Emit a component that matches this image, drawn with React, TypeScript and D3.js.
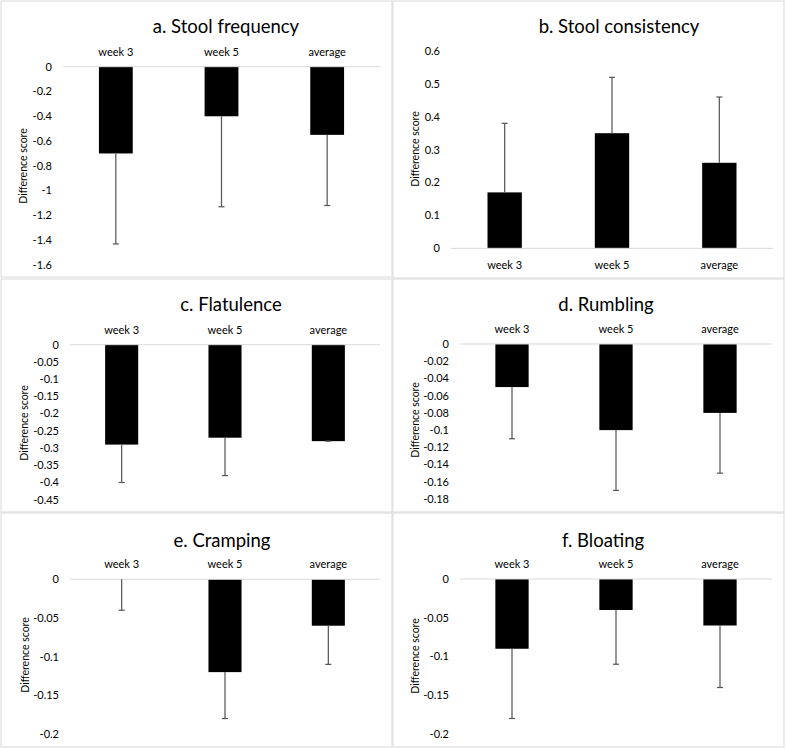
import React from "react";
import * as d3 from "d3";

const categories = ["week 3", "week 5", "average"];

const titles = [
  "a. Stool frequency",
  "b. Stool consistency",
  "c. Flatulence",
  "d. Rumbling",
  "e. Cramping",
  "f. Bloating",
];

// mean difference scores
const stoolFrequency = [-0.7, -0.4, -0.55];
const stoolConsistency = [0.17, 0.35, 0.26];
const flatulence = [-0.29, -0.27, -0.28];
const rumbling = [-0.05, -0.1, -0.08];
const cramping = [0, -0.12, -0.06];
const bloating = [-0.09, -0.04, -0.06];

// error bar lengths (one-sided)
const stoolFrequencyErr = [0.73, 0.73, 0.57];
const stoolConsistencyErr = [0.21, 0.17, 0.2];
const flatulenceErr = [0.11, 0.11, 0.0];
const rumblingErr = [0.06, 0.07, 0.07];
const crampingErr = [0.04, 0.06, 0.05];
const bloatingErr = [0.09, 0.07, 0.08];

// axis ticks
const ticksA = [0, -0.2, -0.4, -0.6, -0.8, -1, -1.2, -1.4, -1.6];
const ticksB = [0, 0.1, 0.2, 0.3, 0.4, 0.5, 0.6];
const ticksC = [0, -0.05, -0.1, -0.15, -0.2, -0.25, -0.3, -0.35, -0.4, -0.45];
const ticksD = [0, -0.02, -0.04, -0.06, -0.08, -0.1, -0.12, -0.14, -0.16, -0.18];
const ticksE = [0, -0.05, -0.1, -0.15, -0.2];
const ticksF = [0, -0.05, -0.1, -0.15, -0.2];

const yLabel = "Difference score";

const seriesValues = [stoolFrequency, stoolConsistency, flatulence, rumbling, cramping, bloating];
const seriesErrors = [stoolFrequencyErr, stoolConsistencyErr, flatulenceErr, rumblingErr, crampingErr, bloatingErr];
const seriesTicks = [ticksA, ticksB, ticksC, ticksD, ticksE, ticksF];

// layout (pixel geometry) for each panel
const layouts = [
  { box: [1, 1, 391, 276], x0: 63, x1: 380, yZero: 66.7, yEnd: 265, titleX: 226, titleY: 33, axX: 23, axY: 166 },
  { box: [393, 1, 391, 277], x0: 451, x1: 773, yZero: 248.3, yEnd: 51, titleX: 619, titleY: 33, axX: 415, axY: 149 },
  { box: [1, 279, 391, 233], x0: 70, x1: 380, yZero: 344.7, yEnd: 499.7, titleX: 231, titleY: 311, axX: 24, axY: 423 },
  { box: [393, 279, 391, 233], x0: 460, x1: 772, yZero: 344, yEnd: 499, titleX: 606, titleY: 311, axX: 415, axY: 420 },
  { box: [1, 513, 391, 234], x0: 70, x1: 380, yZero: 579.3, yEnd: 734, titleX: 222, titleY: 547, axX: 25, axY: 655 },
  { box: [393, 513, 391, 234], x0: 460, x1: 772, yZero: 579, yEnd: 734, titleX: 603, titleY: 547, axX: 415, axY: 656 },
];

const FONT = "Lato, 'Open Sans', sans-serif";
const fmt = (v: number) => String(+v.toFixed(3));

function Panel({ i }: { i: number }) {
  const L = layouts[i];
  const values = seriesValues[i];
  const errs = seriesErrors[i];
  const ticks = seriesTicks[i];
  const ext = d3.extent(ticks) as [number, number];
  const positive = ext[1] > 0;
  const far = positive ? ext[1] : ext[0];
  const y = d3.scaleLinear().domain([0, far]).range([L.yZero, L.yEnd]);
  const x = d3
    .scaleBand<string>()
    .domain(categories)
    .range([L.x0, L.x1])
    .paddingInner(0.68)
    .paddingOuter(0.34);
  const catY = positive ? L.yZero + 21 : L.yZero - 11;
  return (
    <g>
      <rect x={L.box[0]} y={L.box[1]} width={L.box[2]} height={L.box[3]} fill="#fff" stroke="#d9d9d9" strokeWidth={1} />
      <text x={L.titleX} y={L.titleY} textAnchor="middle" fontFamily={FONT} fontSize={18.5} fill="#000">
        {titles[i]}
      </text>
      <text
        transform={`translate(${L.axX},${L.axY}) rotate(-90)`}
        textAnchor="middle"
        dy="0.35em"
        fontFamily={FONT}
        fontSize={10.5}
        fill="#000"
      >
        {yLabel}
      </text>
      {ticks.map((t) => (
        <text
          key={t}
          x={L.x0 - 11}
          y={y(t)}
          dy="0.35em"
          textAnchor="end"
          fontFamily={FONT}
          fontSize={11}
          fill="#000"
        >
          {fmt(t)}
        </text>
      ))}
      {categories.map((c) => (
        <text
          key={c}
          x={(x(c) as number) + x.bandwidth() / 2}
          y={catY}
          textAnchor="middle"
          fontFamily={FONT}
          fontSize={11}
          fill="#000"
        >
          {c}
        </text>
      ))}
      {categories.map((c, k) => {
        const v = values[k];
        const top = Math.min(y(0), y(v));
        const h = Math.abs(y(v) - y(0));
        return h > 0 ? (
          <rect key={"b" + c} x={x(c)} y={top} width={x.bandwidth()} height={h} fill="#000" />
        ) : null;
      })}
      <line x1={L.x0} x2={L.x1} y1={y(0)} y2={y(0)} stroke="#d9d9d9" strokeWidth={1} />
      {categories.map((c, k) => {
        const v = values[k];
        const e = errs[k];
        const end = positive ? v + e : v - e;
        const cx = (x(c) as number) + x.bandwidth() / 2;
        return (
          <g key={"e" + c}>
            <line x1={cx} x2={cx} y1={y(v)} y2={y(end)} stroke="#595959" strokeWidth={1.25} />
            <line x1={cx - 3} x2={cx + 3} y1={y(end)} y2={y(end)} stroke="#595959" strokeWidth={1.25} />
          </g>
        );
      })}
    </g>
  );
}

export default function App() {
  return (
    <svg
      width={786}
      height={749}
      style={{ position: "absolute", left: 0, top: 0, background: "#fff" }}
    >
      {layouts.map((_, i) => (
        <Panel key={i} i={i} />
      ))}
    </svg>
  );
}
